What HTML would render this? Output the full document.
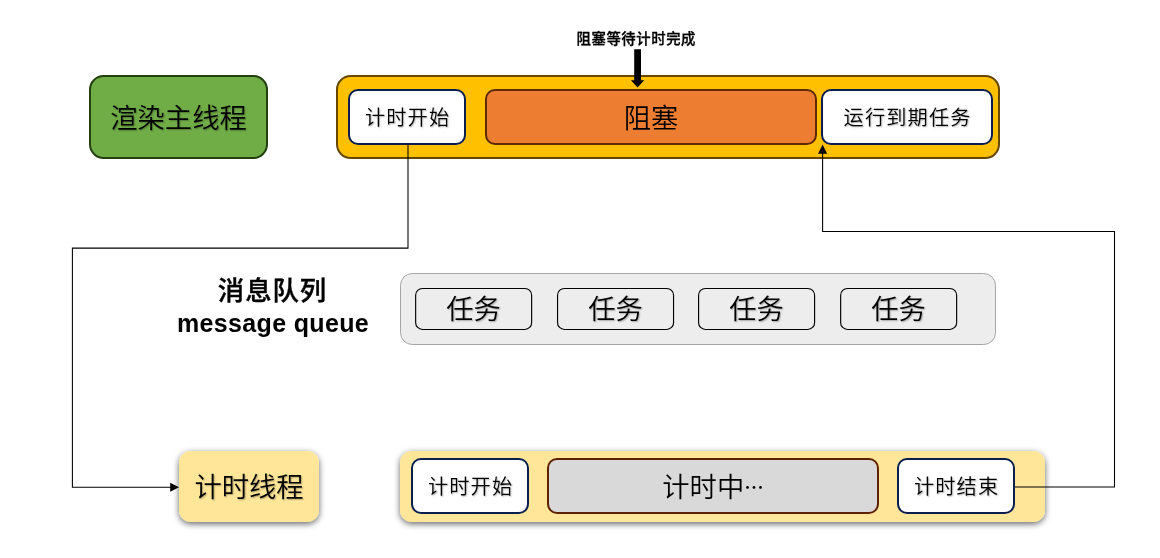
<!DOCTYPE html>
<html lang="zh-CN">
<head>
<meta charset="utf-8">
<title>渲染主线程 / 计时线程</title>
<style>
html,body{margin:0;padding:0;background:#fff;}
body{width:1160px;height:558px;position:relative;overflow:hidden;
  font-family:"Liberation Sans","Noto Sans CJK SC",sans-serif;color:#000;}
svg{position:absolute;left:0;top:0;}
.t{position:absolute;display:flex;align-items:center;justify-content:center;
  white-space:nowrap;line-height:1;font-weight:350;box-sizing:border-box;padding-top:5px;will-change:transform;}
.sh{text-shadow:1px 1px 1.5px rgba(0,0,0,.3);}
.f27{font-size:27.3px;padding-top:3.6px;}
.f21{font-size:20.2px;letter-spacing:1.15px;padding-left:1.15px;padding-top:2.8px;}
.b{font-weight:500;-webkit-text-stroke:0.4px #000;}
.bb{font-weight:bold;}
</style>
</head>
<body>
<svg width="1160" height="558" viewBox="0 0 1160 558">
  <defs>
    <filter id="ds" x="-10%" y="-25%" width="120%" height="160%">
      <feDropShadow dx="0" dy="2" stdDeviation="3" flood-color="#000" flood-opacity="0.6"/>
    </filter>
  </defs>
  <!-- main thread label -->
  <rect x="90" y="76" width="177" height="82" rx="13.7" fill="#70AD47" stroke="#234010" stroke-width="2"/>
  <!-- main thread container -->
  <rect x="337" y="76" width="662" height="82" rx="13.7" fill="#FFC000" stroke="#664800" stroke-width="2"/>
  <rect x="349" y="90" width="116" height="54" rx="9" fill="#fff" stroke="#0A1F50" stroke-width="2"/>
  <rect x="486" y="90" width="330" height="54" rx="9" fill="#ED7D31" stroke="#5E2A0A" stroke-width="2"/>
  <rect x="822" y="90" width="170" height="54" rx="9" fill="#fff" stroke="#0A1F50" stroke-width="2"/>
  <!-- queue -->
  <rect x="400.5" y="273.5" width="595" height="71" rx="11.8" fill="#EDEDED" stroke="#A6A6A6" stroke-width="1"/>
  <rect x="415.65" y="288.45" width="116" height="41" rx="6.8" fill="#EDEDED" stroke="#000" stroke-width="1.15"/>
  <rect x="557.55" y="288.45" width="116" height="41" rx="6.8" fill="#EDEDED" stroke="#000" stroke-width="1.15"/>
  <rect x="698.6" y="288.45" width="116" height="41" rx="6.8" fill="#EDEDED" stroke="#000" stroke-width="1.15"/>
  <rect x="840.65" y="288.45" width="116" height="41" rx="6.8" fill="#EDEDED" stroke="#000" stroke-width="1.15"/>
  <!-- timer thread -->
  <rect x="179" y="451" width="140" height="71" rx="11.8" fill="#FFE699" filter="url(#ds)"/>
  <rect x="400" y="451" width="645" height="71" rx="11.8" fill="#FFE699" filter="url(#ds)"/>
  <rect x="412" y="459" width="116" height="54" rx="9" fill="#fff" stroke="#0A1F50" stroke-width="2"/>
  <rect x="548" y="459" width="330" height="54" rx="9" fill="#D9D9D9" stroke="#5E2200" stroke-width="2"/>
  <rect x="898" y="459" width="116" height="54" rx="9" fill="#fff" stroke="#0A1F50" stroke-width="2"/>
  <!-- connectors -->
  <path d="M408 144 V248.15 H72.4 V487.3 H171" fill="none" stroke="#000" stroke-width="1.07"/>
  <path d="M179 487.3 L170.2 482.8 V491.8 Z" fill="#000"/>
  <path d="M1015 487 H1114.5 V231.5 H822.6 V153" fill="none" stroke="#000" stroke-width="1.07"/>
  <path d="M822.6 144.6 L818 153.7 H827.1 Z" fill="#000"/>
  <!-- block arrow -->
  <path d="M634.2 49.2 H641 V80.3 H644.2 L637.6 87.4 L630.9 80.3 H634.2 Z" fill="#000"/>
</svg>

<div class="t f27 sh" style="left:89px;top:75px;width:179px;height:84px;">渲染主线程</div>
<div class="t f21 sh" style="left:348px;top:89px;width:118px;height:56px;">计时开始</div>
<div class="t f27" style="left:485px;top:89px;width:332px;height:56px;">阻塞</div>
<div class="t f21 sh" style="left:821px;top:89px;width:172px;height:56px;">运行到期任务</div>
<div class="t b" style="left:536px;top:28px;width:200px;height:22px;font-size:14.4px;letter-spacing:.55px;padding:0 0 0 .55px;-webkit-text-stroke-width:.3px;">阻塞等待计时完成</div>

<div class="t f27 b" style="left:172px;top:273px;width:200px;height:32px;font-size:26.4px;letter-spacing:.9px;padding-left:.9px;">消息队列</div>
<div class="t bb" style="left:172.5px;top:307.2px;width:200px;height:32px;font-size:25px;letter-spacing:0.35px;padding-top:0;">message queue</div>

<div class="t f27 sh" style="left:415px;top:287.1px;width:117px;height:42px;">任务</div>
<div class="t f27 sh" style="left:557px;top:287.1px;width:117px;height:42px;">任务</div>
<div class="t f27 sh" style="left:698px;top:287.1px;width:117px;height:42px;">任务</div>
<div class="t f27 sh" style="left:840px;top:287.1px;width:117px;height:42px;">任务</div>

<div class="t f27 sh" style="left:179px;top:450.3px;width:140px;height:71px;">计时线程</div>
<div class="t f21 sh" style="left:411px;top:458px;width:118px;height:56px;">计时开始</div>
<div class="t f27" style="left:546.5px;top:458px;width:332px;height:56px;">计时中<span style="font-family:'Noto Sans CJK SC',sans-serif;font-size:19.5px;font-weight:500;position:relative;top:-1.4px;">…</span></div>
<div class="t f21 sh" style="left:897px;top:458px;width:118px;height:56px;">计时结束</div>
</body>
</html>
